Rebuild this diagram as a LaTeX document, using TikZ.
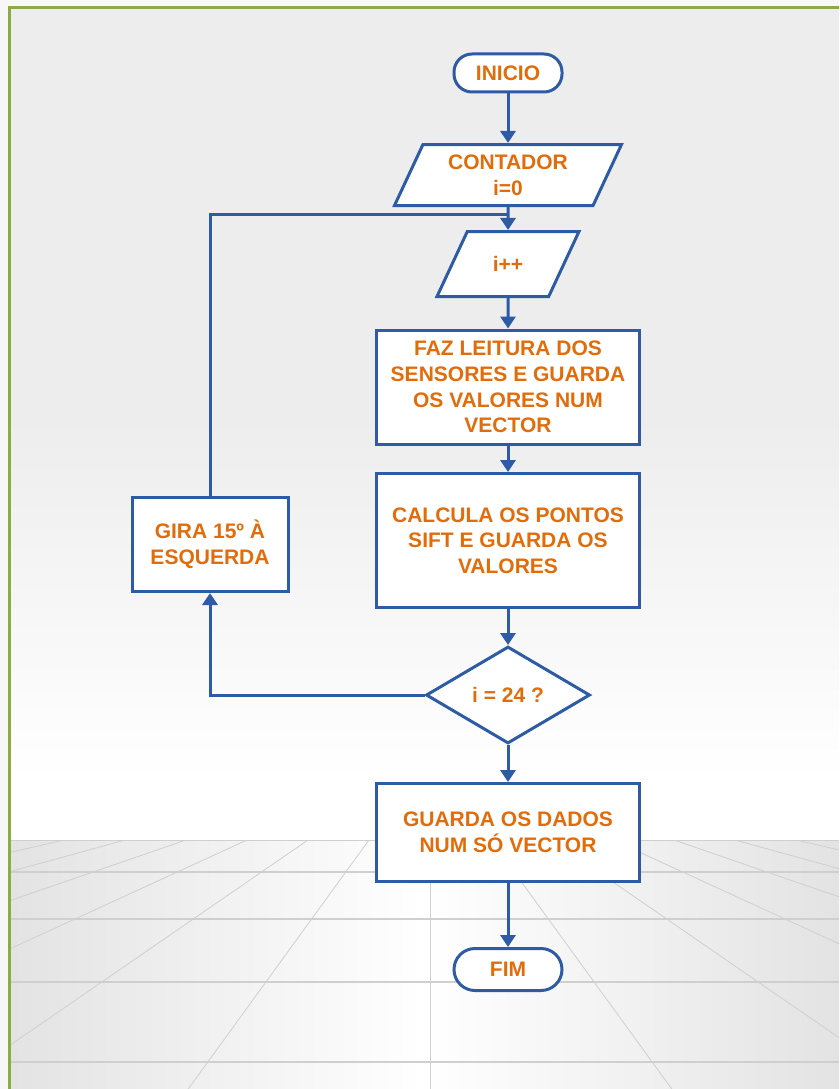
\documentclass[tikz,border=0pt]{standalone}
\usepackage{fontspec}
\setmainfont{Liberation Sans}
\usetikzlibrary{arrows.meta,positioning,calc,shapes.geometric}
\definecolor{flowblue}{HTML}{2E5CA4}
\definecolor{flowtext}{HTML}{E36C0A}
\definecolor{framegreen}{HTML}{8CAA4C}
\definecolor{gridgray}{HTML}{CFCFCF}
\tikzset{flowbox/.style={rectangle, draw=flowblue, line width=3pt, fill=white, text=flowtext, font=\bfseries\fontsize{21}{25.7}\selectfont, align=center, inner sep=0pt}}
\tikzset{terminal/.style={flowbox, rounded corners=18pt, minimum width=108pt, minimum height=38pt}}
\tikzset{iobox/.style={flowbox, trapezium, trapezium left angle=65, trapezium right angle=115, trapezium stretches body, text depth=0pt}}
\tikzset{decision/.style={flowbox, diamond, minimum width=164pt, minimum height=97pt}}
\tikzset{procbox/.style={flowbox, minimum width=263pt}}
\tikzset{link/.style={draw=flowblue, line width=3pt}}
\tikzset{arr/.style={link, -{Triangle[width=15pt,length=12pt]}}}

\begin{document}
\begin{tikzpicture}[x=1pt, y=-1pt]
		\useasboundingbox (0,0) rectangle (839,1089);
		
		% background: wall, floor and frame
		\begin{scope}
			\clip (0,0) rectangle (839,1089);
			\fill[gray!6] (0,0) rectangle (839,1089);
			\fill[gray!14] (9,8) rectangle (839,420);
			\shade[top color=gray!14, bottom color=white] (9,420) rectangle (839,780);
			\fill[white] (9,780) rectangle (839,840);
			\shade[left color=gray!22, right color=gray!22, middle color=white] (9,840) rectangle (839,1089);
			\begin{scope}
				\clip (9,840) rectangle (839,1089);
				\foreach \k in {-9,...,9}
					\draw[gridgray, line width=0.8pt] (430+61*\k,840) -- (430+241.8*\k,1089);
				\foreach \y in {840,872,919,982,1062}
					\draw[gridgray, line width=2pt] (9,\y) -- (839,\y);
			\end{scope}
			\draw[framegreen, line width=3pt] (9,8) rectangle (850,1091);
		\end{scope}
		
		\node[terminal] (inicio) at (508,73){INICIO};
		\node[iobox, text height=41pt, inner ysep=10pt, minimum width=227pt] (contador) at (508,175){CONTADOR\\i=0};
		\node[iobox, text height=15pt, inner ysep=25pt, minimum width=142pt] (ipp) at (508,264){i++};
		\node[procbox, minimum height=114pt] (faz) at (508,387){FAZ LEITURA DOS\\SENSORES E GUARDA\\OS VALORES NUM\\VECTOR};
		\node[procbox, minimum height=134pt] (calcula) at (508,540.5){CALCULA OS PONTOS\\SIFT E GUARDA OS\\VALORES};
		\node[decision] (dec) at (508,695){i = 24 ?};
		\node[flowbox, minimum width=156pt, minimum height=94pt] (gira) at (210,544.5){GIRA 15º À\\ESQUERDA};
		\node[procbox, minimum height=98pt] (guarda) at (508,832.5){GUARDA OS DADOS\\NUM SÓ VECTOR};
		\node[terminal, minimum height=42pt, rounded corners=21pt] (fim) at (508,969.5){FIM};
		
		\coordinate (join) at ([yshift=-7pt]contador.south);
		
		\draw[arr] (inicio) -- (contador);
		\draw[arr] (contador) -- (ipp);
		\draw[arr] (ipp) -- (faz);
		\draw[arr] (faz) -- (calcula);
		\draw[arr] (calcula) -- (dec);
		\draw[arr] (dec) -- (guarda);
		\draw[arr] (guarda) -- (fim);
		
		% loop back
		\draw[arr] (dec.west) -| (gira.south);
		\draw[link] (gira.north) |- (join);
	\end{tikzpicture}
\end{document}
